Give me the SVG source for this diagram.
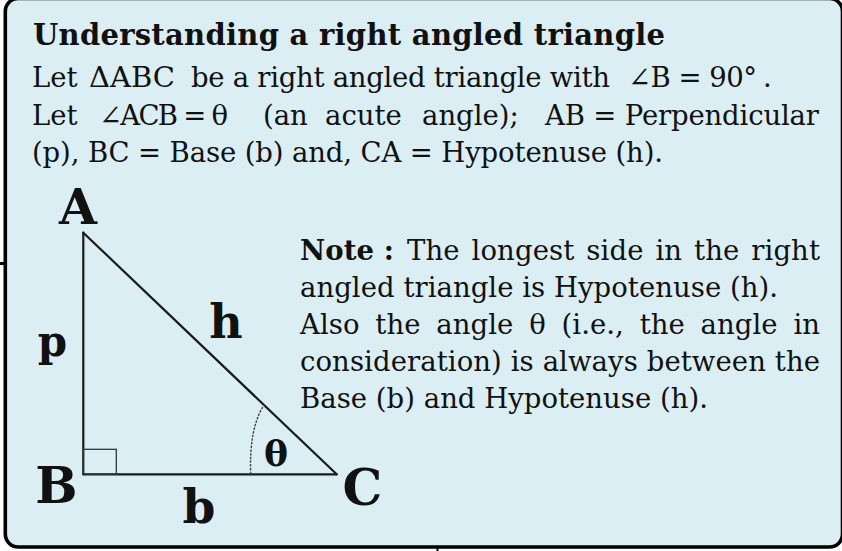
<svg xmlns="http://www.w3.org/2000/svg" width="842" height="551" viewBox="0 0 842 551">
<style>
.t{font-family:"DejaVu Serif","Liberation Serif",serif;fill:#111;font-size:27.5px}
.b{font-weight:bold}
.lbl{font-family:"DejaVu Serif","Liberation Serif",serif;font-weight:bold;fill:#111;text-anchor:middle}
.edge{stroke:#1a1a1a;stroke-width:2.2;fill:none;stroke-linecap:round}
</style>
<rect width="842" height="551" fill="#ffffff"/>
<g id="frame">
<rect x="5.3" y="-1.5" width="837.2" height="548.5" rx="13" fill="#dbeef4" stroke="#000" stroke-width="3.6"/>
<line x1="0" y1="263.5" x2="5" y2="263.5" stroke="#000" stroke-width="3"/>
<line x1="437.5" y1="548" x2="437.5" y2="551" stroke="#000" stroke-width="2"/>
</g>
<g id="title">
<text class="t b" x="33" y="45" textLength="632" lengthAdjust="spacing" style="font-size:29px">Understanding a right angled triangle</text>
</g>
<g id="intro">
<text class="t" x="32" y="87">Let</text>
<text class="t" x="89" y="87" textLength="86" lengthAdjust="spacingAndGlyphs">ΔABC</text>
<text class="t" x="191" y="87" textLength="419" lengthAdjust="spacing">be a right angled triangle with</text>
<text class="t" x="628" y="87" textLength="129" lengthAdjust="spacing">∠B = 90°</text>
<text class="t" x="763" y="87">.</text>
<text class="t" x="32" y="125">Let</text>
<text class="t" x="99" y="125" textLength="129" lengthAdjust="spacing">∠ACB = θ</text>
<text class="t" x="263" y="125">(an</text>
<text class="t" x="325" y="125">acute</text>
<text class="t" x="422" y="125">angle);</text>
<text class="t" x="545" y="125" textLength="274" lengthAdjust="spacing">AB = Perpendicular</text>
<text class="t" x="32" y="162" textLength="631" lengthAdjust="spacing">(p), BC = Base (b) and, CA = Hypotenuse (h).</text>
</g>
<g id="triangle">
<line class="edge" x1="83.3" y1="232.7" x2="83.3" y2="474.3"/>
<line class="edge" x1="83.3" y1="474.3" x2="336.7" y2="474.3"/>
<line class="edge" x1="83.3" y1="232.7" x2="336.7" y2="474.3" stroke-width="2.4"/>
<rect x="83.3" y="449.3" width="33" height="25" fill="none" stroke="#333" stroke-width="1.3"/>
<path d="M250.7 474.3 Q249 428 264 405" fill="none" stroke="#444" stroke-width="1.4" stroke-dasharray="2.5 1.2"/>
</g>
<g id="labels">
<text class="lbl" x="78" y="224" font-size="49">A</text>
<text class="lbl" x="52.5" y="356" font-size="42">p</text>
<text class="lbl" x="226" y="338" font-size="46">h</text>
<text class="lbl" x="56.5" y="503" font-size="50">B</text>
<text class="lbl" x="199" y="523" font-size="47">b</text>
<text class="lbl" x="362.5" y="505" font-size="50">C</text>
<text class="lbl" x="276" y="466" font-size="36">θ</text>
</g>
<g id="note">
<text class="t b" x="300" y="259.5" textLength="94" lengthAdjust="spacing">Note :</text>
<text class="t" x="407" y="259.5" word-spacing="3" textLength="413" lengthAdjust="spacing">The longest side in the right</text>
<text class="t" x="300" y="296.5" textLength="478" lengthAdjust="spacing">angled triangle is Hypotenuse (h).</text>
<text class="t" x="300" y="333.5" word-spacing="7" textLength="520" lengthAdjust="spacing">Also the angle θ (i.e., the angle in</text>
<text class="t" x="300" y="370.5" textLength="520" lengthAdjust="spacing">consideration) is always between the</text>
<text class="t" x="300" y="407.5" textLength="408" lengthAdjust="spacing">Base (b) and Hypotenuse (h).</text>
</g>
</svg>
